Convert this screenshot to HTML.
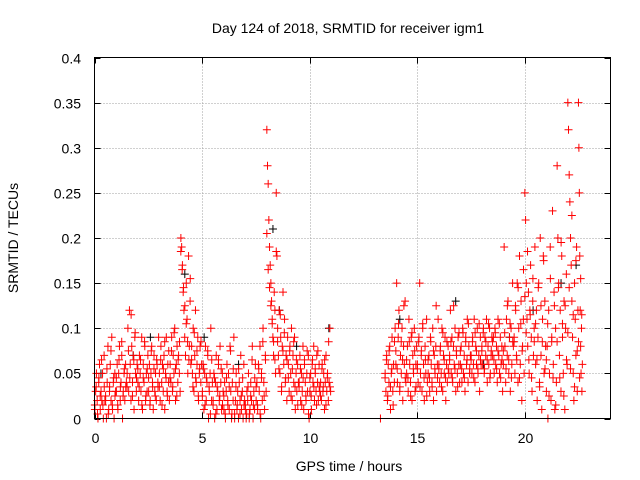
<!DOCTYPE html>
<html><head><meta charset="utf-8"><style>
body{margin:0;background:#fff}
svg{display:block;font-family:"Liberation Sans",sans-serif;font-size:14px}
</style></head><body>
<svg id="chart" width="640" height="480">
<rect width="640" height="480" fill="#fff"/>
<g id="grid"></g><g id="ticks"></g><g id="marks"></g>
<rect x="94.5" y="57.5" width="516" height="361" fill="none" stroke="#000" stroke-width="1"/>
<text x="348" y="33" text-anchor="middle">Day 124 of 2018, SRMTID for receiver igm1</text>
<text x="349" y="471" text-anchor="middle">GPS time / hours</text>
<text transform="translate(18,238) rotate(-90)" text-anchor="middle">SRMTID / TECUs</text>
</svg>
<script>
const xTicks=[0,5,10,15,20];
const yTicks=[0,0.05,0.1,0.15,0.2,0.25,0.3,0.35,0.4];
const yTickLabels=["0","0.05","0.1","0.15","0.2","0.25","0.3","0.35","0.4"];
const binStarts=[0,0.5,1,1.5,2,2.5,3,3.5,4,4.5,5,5.5,6,6.5,7,7.5,8,8.5,9,9.5,10,10.5,13.25,13.5,14,14.5,15,15.5,16,16.5,17,17.5,18,18.5,19,19.5,20,20.5,21,21.5,22,22.5];
const binValues=[
[0.01,0.03,0.05,0.02,0.0,0.04,0.06,0.01,0.03,0.02,0.05,0.0,0.07,0.02],
[0.02,0.0,0.04,0.08,0.01,0.03,0.06,0.02,0.09,0.01,0.04,0.0,0.05,0.03],
[0.03,0.06,0.01,0.05,0.08,0.02,0.04,0.07,0.0,0.03,0.05,0.02,0.06,0.04],
[0.05,0.1,0.03,0.12,0.06,0.02,0.08,0.04,0.07,0.01,0.09,0.05,0.03,0.06],
[0.04,0.02,0.07,0.05,0.03,0.09,0.01,0.06,0.04,0.08,0.02,0.05,0.03,0.07],
[0.03,0.06,0.02,0.05,0.08,0.04,0.01,0.07,0.03,0.05,0.02,0.06,0.04,0.09],
[0.05,0.02,0.08,0.04,0.06,0.03,0.07,0.01,0.05,0.09,0.03,0.06,0.04,0.02],
[0.06,0.04,0.09,0.03,0.07,0.05,0.1,0.02,0.06,0.08,0.04,0.07,0.05,0.03],
[0.2,0.19,0.17,0.14,0.12,0.09,0.07,0.15,0.11,0.05,0.18,0.08,0.13,0.06],
[0.08,0.05,0.1,0.03,0.07,0.12,0.04,0.06,0.09,0.02,0.05,0.08,0.04,0.06],
[0.03,0.06,0.01,0.05,0.08,0.02,0.04,0.07,0.0,0.03,0.05,0.1,0.02,0.04],
[0.02,0.05,0.0,0.04,0.07,0.01,0.03,0.06,0.02,0.08,0.04,0.01,0.05,0.03],
[0.01,0.04,0.0,0.03,0.06,0.02,0.05,0.01,0.08,0.03,0.0,0.04,0.02,0.09],
[0.0,0.02,0.05,0.01,0.03,0.0,0.04,0.02,0.07,0.01,0.03,0.0,0.06,0.02],
[0.01,0.0,0.03,0.02,0.05,0.0,0.01,0.04,0.02,0.08,0.0,0.03,0.01,0.06],
[0.02,0.04,0.01,0.06,0.03,0.08,0.0,0.05,0.02,0.1,0.04,0.01,0.07,0.03],
[0.32,0.28,0.26,0.22,0.19,0.17,0.15,0.13,0.11,0.09,0.07,0.14,0.12,0.05,0.25,0.18],
[0.1,0.07,0.12,0.05,0.09,0.03,0.08,0.14,0.06,0.11,0.04,0.07,0.02,0.09],
[0.06,0.03,0.08,0.05,0.1,0.02,0.07,0.04,0.09,0.01,0.05,0.03,0.06,0.04],
[0.04,0.07,0.02,0.05,0.03,0.08,0.01,0.06,0.04,0.02,0.05,0.03,0.07,0.0],
[0.03,0.05,0.01,0.06,0.04,0.08,0.02,0.05,0.03,0.07,0.04,0.02,0.06,0.03],
[0.04,0.02,0.06,0.03,0.05,0.01,0.04,0.07,0.03,0.05,0.02,0.04,0.1,0.03],
[0.0],
[0.05,0.03,0.07,0.02,0.06,0.04,0.08,0.01,0.05,0.09,0.03,0.06,0.04,0.1],
[0.06,0.15,0.04,0.09,0.12,0.03,0.07,0.05,0.1,0.02,0.08,0.06,0.13,0.04],
[0.05,0.08,0.03,0.11,0.06,0.04,0.09,0.02,0.07,0.05,0.1,0.03,0.06,0.08],
[0.06,0.04,0.09,0.15,0.05,0.07,0.03,0.1,0.06,0.02,0.08,0.05,0.11,0.04],
[0.05,0.07,0.03,0.09,0.06,0.04,0.1,0.02,0.07,0.05,0.08,0.03,0.06,0.11],
[0.06,0.04,0.08,0.05,0.1,0.03,0.07,0.05,0.09,0.02,0.06,0.04,0.08,0.05],
[0.07,0.12,0.05,0.09,0.04,0.08,0.06,0.1,0.03,0.07,0.05,0.09,0.06,0.04],
[0.06,0.08,0.04,0.1,0.05,0.07,0.03,0.09,0.06,0.11,0.04,0.08,0.05,0.07],
[0.07,0.05,0.09,0.06,0.11,0.04,0.08,0.06,0.1,0.05,0.07,0.03,0.09,0.06],
[0.08,0.06,0.1,0.05,0.09,0.07,0.11,0.04,0.08,0.06,0.1,0.05,0.07,0.09],
[0.07,0.09,0.05,0.1,0.06,0.08,0.04,0.11,0.07,0.05,0.09,0.06,0.08,0.03],
[0.06,0.19,0.08,0.04,0.11,0.07,0.13,0.05,0.09,0.03,0.1,0.06,0.15,0.08],
[0.09,0.05,0.12,0.07,0.15,0.04,0.1,0.18,0.06,0.13,0.02,0.08,0.11,0.05],
[0.25,0.22,0.15,0.11,0.08,0.14,0.05,0.12,0.17,0.09,0.03,0.13,0.07,0.1,0.19],
[0.06,0.12,0.02,0.09,0.15,0.04,0.2,0.07,0.01,0.11,0.18,0.05,0.13,0.08],
[0.03,0.08,0.0,0.12,0.05,0.19,0.02,0.09,0.23,0.06,0.14,0.01,0.1,0.04],
[0.28,0.2,0.15,0.07,0.12,0.03,0.18,0.09,0.05,0.13,0.01,0.1,0.16,0.06],
[0.35,0.32,0.27,0.24,0.2,0.17,0.13,0.09,0.05,0.02,0.15,0.11,0.07,0.19,0.03,0.12],
[0.35,0.3,0.25,0.18,0.12,0.08,0.05,0.1,0.03,0.06]
];
const binValues2=[
[0.015,0.035,0.005,0.045,0.025,0.065,0.015,0.035],
[0.025,0.055,0.005,0.035,0.075,0.015,0.045,0.025],
[0.045,0.015,0.065,0.035,0.085,0.025,0.055,0.035],
[0.035,0.075,0.045,0.115,0.025,0.065,0.095,0.045],
[0.055,0.035,0.065,0.015,0.045,0.085,0.025,0.055],
[0.045,0.015,0.075,0.035,0.055,0.025,0.065,0.035],
[0.035,0.065,0.015,0.055,0.085,0.045,0.025,0.075],
[0.045,0.075,0.035,0.095,0.055,0.025,0.065,0.085],
[0.185,0.165,0.145,0.125,0.105,0.085,0.065,0.155],
[0.065,0.035,0.095,0.045,0.075,0.025,0.055,0.085],
[0.025,0.055,0.015,0.045,0.075,0.035,0.005,0.065],
[0.015,0.045,0.005,0.035,0.065,0.025,0.055,0.015],
[0.025,0.005,0.045,0.015,0.035,0.075,0.005,0.055],
[0.005,0.035,0.015,0.055,0.005,0.025,0.045,0.015],
[0.015,0.005,0.035,0.005,0.025,0.065,0.015,0.045],
[0.035,0.015,0.055,0.005,0.045,0.085,0.025,0.065],
[0.205,0.165,0.145,0.125,0.105,0.085,0.065,0.185],
[0.085,0.055,0.115,0.035,0.075,0.095,0.045,0.065],
[0.045,0.075,0.025,0.055,0.085,0.035,0.065,0.015],
[0.035,0.055,0.015,0.045,0.065,0.025,0.075,0.005],
[0.045,0.025,0.065,0.035,0.055,0.015,0.075,0.035],
[0.025,0.055,0.035,0.065,0.015,0.045,0.085,0.035],
[],
[0.045,0.065,0.025,0.075,0.035,0.055,0.015,0.085],
[0.075,0.055,0.105,0.035,0.085,0.065,0.125,0.045],
[0.065,0.045,0.085,0.025,0.095,0.055,0.075,0.035],
[0.055,0.085,0.035,0.075,0.105,0.045,0.065,0.025],
[0.065,0.045,0.085,0.035,0.075,0.055,0.125,0.045],
[0.055,0.075,0.035,0.095,0.065,0.045,0.085,0.055],
[0.065,0.085,0.045,0.125,0.055,0.075,0.035,0.095],
[0.075,0.055,0.095,0.045,0.085,0.065,0.105,0.055],
[0.065,0.085,0.045,0.095,0.075,0.055,0.105,0.065],
[0.075,0.095,0.055,0.085,0.065,0.105,0.045,0.075],
[0.085,0.065,0.095,0.055,0.075,0.105,0.045,0.065],
[0.075,0.095,0.055,0.125,0.065,0.105,0.045,0.085],
[0.085,0.125,0.065,0.145,0.045,0.105,0.075,0.165],
[0.135,0.095,0.185,0.065,0.115,0.045,0.155,0.085],
[0.105,0.065,0.145,0.035,0.125,0.085,0.175,0.055],
[0.065,0.105,0.025,0.155,0.085,0.045,0.125,0.015],
[0.085,0.145,0.045,0.195,0.105,0.025,0.125,0.065],
[0.095,0.145,0.055,0.225,0.115,0.035,0.175,0.075],
[0.085,0.045,0.155,0.115]
];
const blackTimes=[0.3,1.8,2.6,4.2,5.1,6.7,8.3,8.6,9.4,10.9,14.2,16.8,18.1,19.3,20.4,21.7,22.4];
const blackValues=[0.05,0.07,0.09,0.16,0.09,0.06,0.21,0.12,0.08,0.1,0.11,0.13,0.06,0.09,0.12,0.15,0.17];
const X0=94.5,X1=610.5,Y0=418.5,Y1=57.5;
const xs=t=>X0+t/24*(X1-X0);
const ys=v=>Y0-v/0.4*(Y0-Y1);
const NS="http://www.w3.org/2000/svg";
const grid=document.getElementById('grid'),ticks=document.getElementById('ticks'),marks=document.getElementById('marks');
function ln(p,x1,y1,x2,y2,st,dash){const l=document.createElementNS(NS,'line');l.setAttribute('x1',x1);l.setAttribute('y1',y1);l.setAttribute('x2',x2);l.setAttribute('y2',y2);l.setAttribute('stroke',st);if(dash)l.setAttribute('stroke-dasharray',dash);p.appendChild(l);return l;}
function tx(p,x,y,s,a){const t=document.createElementNS(NS,'text');t.setAttribute('x',x);t.setAttribute('y',y);t.setAttribute('text-anchor',a);t.textContent=s;p.appendChild(t);return t;}
xTicks.forEach(v=>{const x=Math.round(xs(v))+0.5;
 if(v>0){const g=ln(grid,x,Y0,x,Y1,'#a0a0a0','1,2');
 
 }
 ln(ticks,x,Y0,x,Y0-6,'#000');ln(ticks,x,Y1,x,Y1+6,'#000');
 const t=tx(ticks,x,443,String(v),'middle');
 
 });
yTicks.forEach((v,i)=>{const y=Math.round(ys(v))+0.5;
 if(i>0&&i<yTicks.length-1){const g=ln(grid,X0,y,X1,y,'#a0a0a0','1,2');
 
 }
 ln(ticks,X0,y,X0+6,y,'#000');ln(ticks,X1,y,X1-6,y,'#000');
 const t=tx(ticks,81,y+5,yTickLabels[i],'end');
 
 });
function plus(x,y,c){const p=document.createElementNS(NS,'path');
 p.setAttribute('d',`M${x-4},${y}h8M${x},${y-4}v8`);p.setAttribute('stroke',c);p.setAttribute('fill','none');
 marks.appendChild(p);return p;}
blackTimes.forEach((t,i)=>{const p=plus(xs(t),ys(blackValues[i]),'#000');
 
 });
function drawBins(arr,shift){
 binStarts.forEach((b,i)=>{const vals=arr[i];const w=(b===22.5?0.2:(b===13.25?0.1:0.5));
 vals.forEach((v,j)=>{const t=b+(j+shift)/vals.length*w;
 const p=plus(xs(t),ys(v),'#ff0000');
 
 });});
}
drawBins(binValues,0.5);
drawBins(binValues2,0.25);
</script>
</body></html>
